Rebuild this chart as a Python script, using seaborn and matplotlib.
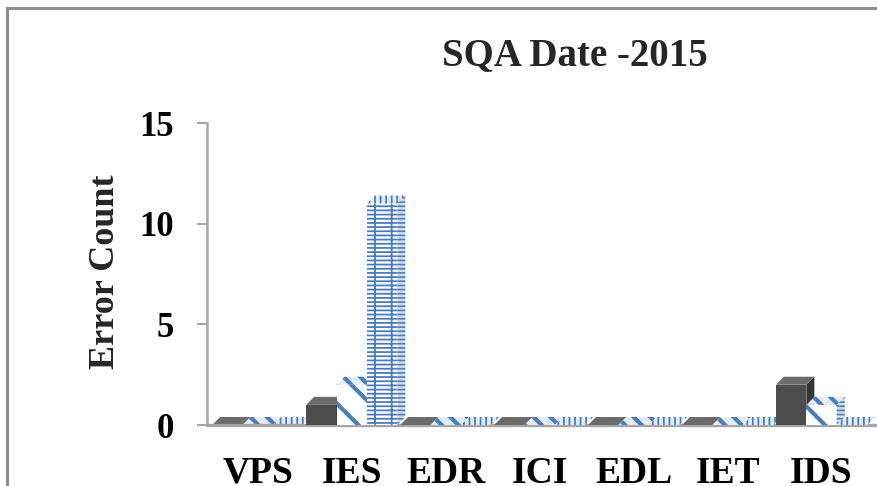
import numpy as np
import pandas as pd
import matplotlib
matplotlib.use("Agg")
import matplotlib.pyplot as plt
import seaborn as sns
from matplotlib.patches import Polygon, Rectangle

# Error counts per module for the three review series
categories = ["VPS", "IES", "EDR", "ICI", "EDL", "IET", "IDS"]
series_names = ["Series 1", "Series 2", "Series 3"]
series1 = [0, 1, 0, 0, 0, 0, 2]
series2 = [0, 2, 0, 0, 0, 0, 1]
series3 = [0, 11, 0, 0, 0, 0, 0]
y_ticks = [0, 5, 10, 15]
title = "SQA Date -2015"
y_label = "Error Count"

df = pd.DataFrame({
    "category": categories * 3,
    "series": np.repeat(series_names, len(categories)),
    "count": series1 + series2 + series3,
})

sns.set_theme(style="white")
plt.rcParams["font.family"] = ["Liberation Serif", "DejaVu Serif"]
plt.rcParams["font.weight"] = "bold"
plt.rcParams["hatch.linewidth"] = 2.0

BLUE = "#4a7ebb"
GREY = "#a6a6a6"

fig = plt.figure(figsize=(8.77, 4.86), dpi=100)
ax = fig.add_axes([207 / 877, 61 / 486, 670 / 877, 302 / 486])

sns.barplot(data=df, x="category", y="count", hue="series",
            order=categories, hue_order=series_names,
            width=0.97, gap=0, legend=False, errorbar=None,
            saturation=1, ax=ax)

xlim = (-0.54, 6.59)
ylim = (0, 15)
ax.set_xlim(*xlim)
ax.set_ylim(*ylim)

# pseudo-3D depth, expressed in data units
px_x = ax.bbox.width / (xlim[1] - xlim[0])
px_y = ax.bbox.height / (ylim[1] - ylim[0])
dx = 8 / px_x
dy = 8 / px_y

styles = [
    dict(front="#4d4d4d", top="#6b6b6b", side="#363636", edge="#4d4d4d",
         hatch=None, top_hatch=None, hlw=1.0),
    dict(front="white", top="#e6ebf2", side="#d3dbe8", edge=BLUE,
         hatch="\\", top_hatch="\\\\", hlw=3.0),
    dict(front="white", top="#e6ebf2", side="#d3dbe8", edge=BLUE,
         hatch="----|", top_hatch="|||", hlw=1.3),
]


def set_hlw(patch, lw):
    if hasattr(patch, "set_hatch_linewidth"):
        patch.set_hatch_linewidth(lw)


for k, container in enumerate(ax.containers):
    st = styles[k]
    for i, bar in enumerate(container):
        x0, w, h = bar.get_x(), bar.get_width(), bar.get_height()
        z = 2 + i + 0.1 * k
        bar.set_facecolor(st["front"])
        bar.set_edgecolor(st["edge"])
        bar.set_linewidth(0)
        bar.set_zorder(z)
        if st["hatch"]:
            bar.set_hatch(st["hatch"])
            set_hlw(bar, st["hlw"])
        top = Polygon([(x0, h), (x0 + w, h), (x0 + w + dx, h + dy), (x0 + dx, h + dy)],
                      closed=True, facecolor=st["top"], edgecolor=st["edge"],
                      linewidth=0, zorder=z + 0.01)
        side = Polygon([(x0 + w, 0), (x0 + w + dx, dy), (x0 + w + dx, h + dy), (x0 + w, h)],
                       closed=True, facecolor=st["side"], edgecolor=st["edge"],
                       linewidth=0, zorder=z + 0.01)
        if st["top_hatch"]:
            top.set_hatch(st["top_hatch"])
            side.set_hatch("----")
            set_hlw(top, st["hlw"])
            set_hlw(side, 1.2)
        ax.add_patch(top)
        ax.add_patch(side)

ax.set_yticks(y_ticks)
ax.set_xlabel("")
ax.set_ylabel(y_label, fontsize=26, fontweight="bold", va="center")
ax.yaxis.set_label_coords((106 - 207) / 670, (425 - 272) / 302)

for side_name in ("top", "right"):
    ax.spines[side_name].set_visible(False)
ax.spines["left"].set_color(GREY)
ax.spines["left"].set_linewidth(1.8)
ax.spines["bottom"].set_color(GREY)
ax.spines["bottom"].set_linewidth(2.4)

ax.tick_params(axis="y", left=True, length=7, width=1.5, color=GREY,
               pad=17, labelsize=25, labelcolor="black")
ax.tick_params(axis="x", bottom=False, length=0, pad=22, labelsize=27,
               labelcolor="black")
for lab in ax.get_xticklabels() + ax.get_yticklabels():
    lab.set_fontweight("bold")

fig.text(575 / 877, 1 - 65 / 486, title, ha="center", va="baseline",
         fontsize=28, fontweight="bold")

# chart area frame (right and bottom edges fall outside the canvas)
fig.patches.append(Rectangle((7 / 877, -0.2), 1.2, 1 - 8 / 486 + 0.2,
                             transform=fig.transFigure, fill=False,
                             edgecolor="#8c8c8c", linewidth=2.2))

fig.savefig("out.png", dpi=100)
